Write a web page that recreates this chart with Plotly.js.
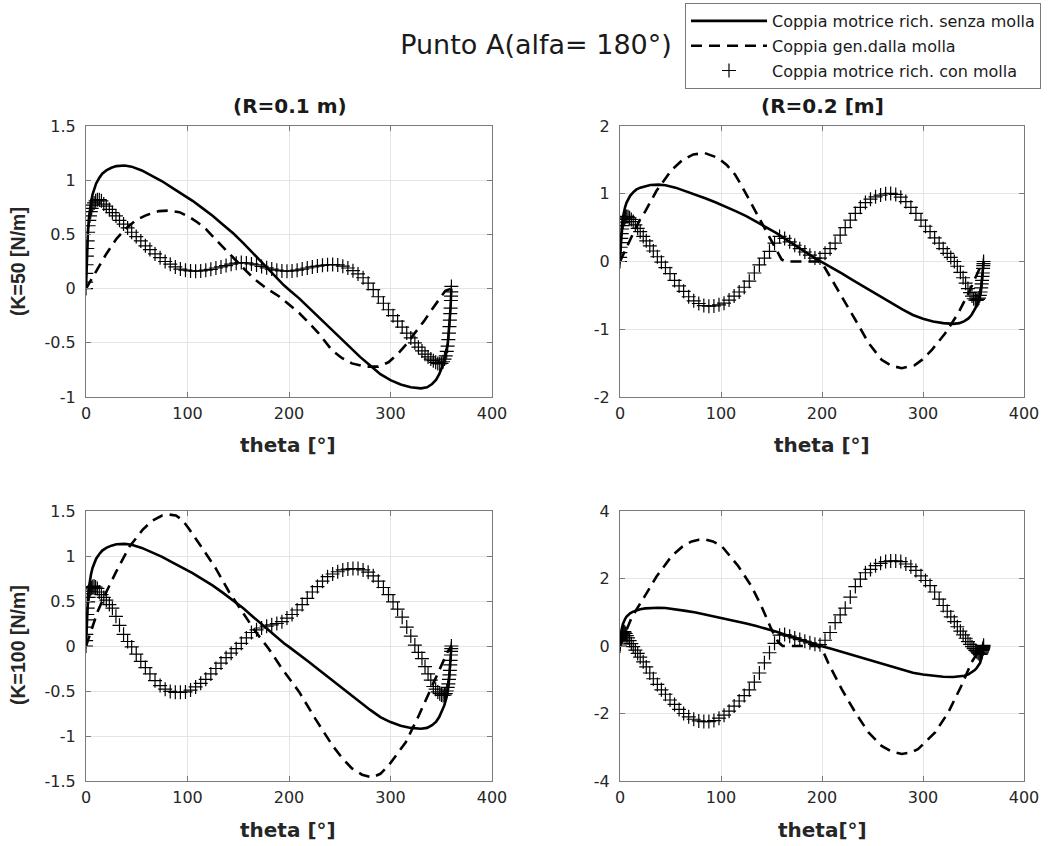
<!DOCTYPE html>
<html>
<head>
<meta charset="utf-8">
<script src="https://cdn.plot.ly/plotly-3.0.1.min.js"></script>
<style>html,body{margin:0;padding:0;background:#fff}#chart{width:1059px;height:846px}</style>
</head>
<body>
<div id="chart"></div>
<script>
// ---- Data ----
// Solid: Coppia motrice rich. senza molla (same in all panels)
const solidTheta = [0,0.5,1,1.5,2,3,4,5,6.5,8,10,13,16,20,25,30,38,45,55,65,75,85,95,105,115,125,135,145,155,165,175,185,195,200,210,220,230,240,250,260,270,280,290,300,310,320,330,336,341,345,348,351,353,355,356.5,357.5,358.3,359,359.5,360];
const solidVal = [0,0.2,0.35,0.46,0.55,0.66,0.74,0.8,0.87,0.92,0.97,1.02,1.06,1.09,1.115,1.13,1.135,1.125,1.09,1.04,0.99,0.93,0.87,0.81,0.74,0.67,0.59,0.51,0.42,0.32,0.22,0.12,0.03,-0.01,-0.09,-0.18,-0.27,-0.36,-0.45,-0.54,-0.63,-0.71,-0.79,-0.845,-0.885,-0.91,-0.92,-0.91,-0.88,-0.84,-0.79,-0.72,-0.66,-0.58,-0.5,-0.4,-0.3,-0.2,-0.1,0];

// Dashed: Coppia gen. dalla molla, one per panel
const dash1Theta = [0,5,13,20,30,40,49,60,72,82,92,102,110,118,126,134,147,157,167,178,190,200,210,220,229,242,252,262,275,288,298,308,316,324,333,341,348,354,360];
const dash1Val = [0,0.08,0.21,0.32,0.46,0.56,0.63,0.68,0.715,0.72,0.705,0.66,0.61,0.55,0.47,0.39,0.27,0.17,0.08,0.0,-0.07,-0.15,-0.225,-0.32,-0.41,-0.565,-0.64,-0.69,-0.72,-0.72,-0.68,-0.595,-0.51,-0.41,-0.30,-0.19,-0.1,-0.02,0];

const dash2Theta = [0,5,11.6,19.8,25,36,51,62,72.6,84,97,106,114,120,127,134,140,150,155,160,164,196,200,206,212,219.5,226,233,246,259,269,279,292,300,309,322,335,345,350,355,358,360];
const dash2Val = [0,0.15,0.37,0.62,0.74,1.04,1.35,1.5,1.58,1.6,1.53,1.42,1.28,1.13,0.94,0.74,0.57,0.32,0.17,0.03,0,0,-0.02,-0.17,-0.33,-0.52,-0.69,-0.86,-1.2,-1.45,-1.54,-1.575,-1.53,-1.44,-1.3,-1.06,-0.76,-0.47,-0.3,-0.12,-0.04,0];

const dash3Theta = [0,5,11.4,20,29.5,42.6,55.7,65,75,82,88.5,95,101.6,115,128,141,154,167,180,193,210,226,242.5,252,262,272,282,290,298,315,328,341,351,356,360];
const dash3Val = [0,0.17,0.38,0.6,0.82,1.1,1.29,1.39,1.45,1.46,1.45,1.4,1.3,1.08,0.86,0.6,0.38,0.16,-0.03,-0.25,-0.51,-0.81,-1.1,-1.24,-1.36,-1.43,-1.46,-1.42,-1.33,-1.07,-0.77,-0.44,-0.18,-0.07,0];

const dash4Theta = [0,5,11.6,25,36,51,62,71,78,84,92,100.7,117,130,140,150,157,161,196,201,206,219.5,233,246,259,269,279,287,295,312,325,338,348,355,360];
const dash4Val = [0,0.38,0.85,1.5,2.05,2.66,2.95,3.1,3.15,3.16,3.1,2.96,2.37,1.78,1.18,0.49,0.1,0,0,-0.15,-0.49,-1.28,-1.97,-2.56,-2.96,-3.13,-3.2,-3.16,-3.06,-2.56,-1.97,-1.18,-0.49,-0.15,0];

// '+' markers: Coppia motrice rich. con molla (same sample angles in every panel)
const plusTheta = [0,0.15,0.35,0.6,0.9,1.25,1.65,2.1,2.6,3.2,3.9,4.7,5.6,6.7,8,9.5,11.2,13.1,15.2,17.5,20,23,26,29.5,33,37,41,45,49.5,54,58.5,63,68,73,78,83,88,93,98,103,108,113,118,123,128,133,138,143,148,153,158,163,168,173,178,183,188,193,198,203,208,213,218,223,228,233,238,243,248,253,258,263,268,273,278,283,288,293,298,302.5,307,311.5,316,320,324,327.5,331,334,337,339.7,342.2,344.5,346.6,348.5,350.2,351.8,353.2,354.4,355.4,356.3,357,357.6,358.1,358.5,358.9,359.2,359.5,359.7,359.85,360];
const plus1Val = [0,0.06,0.14,0.22,0.3,0.37,0.44,0.52,0.58,0.63,0.67,0.71,0.74,0.77,0.79,0.81,0.82,0.82,0.81,0.78,0.76,0.73,0.7,0.67,0.63,0.595,0.56,0.52,0.48,0.44,0.395,0.36,0.32,0.285,0.25,0.225,0.2,0.18,0.17,0.163,0.16,0.163,0.17,0.178,0.19,0.2,0.212,0.225,0.235,0.24,0.237,0.228,0.218,0.205,0.192,0.18,0.17,0.163,0.16,0.163,0.17,0.18,0.19,0.2,0.208,0.215,0.22,0.222,0.218,0.207,0.19,0.165,0.135,0.1,0.05,-0.01,-0.075,-0.135,-0.195,-0.25,-0.3,-0.355,-0.41,-0.455,-0.5,-0.54,-0.575,-0.605,-0.63,-0.65,-0.665,-0.68,-0.69,-0.695,-0.69,-0.675,-0.65,-0.62,-0.58,-0.53,-0.47,-0.41,-0.35,-0.29,-0.23,-0.18,-0.11,-0.07,-0.03,0.02];
const plus2Val = [0,0.06,0.13,0.21,0.28,0.34,0.41,0.48,0.53,0.58,0.62,0.64,0.66,0.665,0.66,0.645,0.62,0.59,0.54,0.49,0.44,0.37,0.305,0.23,0.155,0.07,-0.01,-0.09,-0.18,-0.28,-0.36,-0.44,-0.52,-0.58,-0.62,-0.65,-0.66,-0.655,-0.64,-0.615,-0.57,-0.51,-0.45,-0.38,-0.29,-0.17,-0.05,0.05,0.15,0.27,0.37,0.34,0.29,0.24,0.19,0.14,0.093,0.05,0.05,0.12,0.19,0.27,0.39,0.5,0.61,0.71,0.8,0.87,0.92,0.955,0.98,1.0,1.005,0.99,0.95,0.885,0.8,0.71,0.61,0.52,0.44,0.35,0.27,0.19,0.12,0.06,0.0,-0.07,-0.16,-0.24,-0.32,-0.4,-0.46,-0.51,-0.55,-0.57,-0.575,-0.56,-0.54,-0.5,-0.45,-0.39,-0.33,-0.28,-0.22,-0.17,-0.1,-0.06,-0.03,0.0];
const plus3Val = [0,0.06,0.13,0.21,0.29,0.35,0.42,0.49,0.54,0.58,0.61,0.635,0.65,0.66,0.665,0.655,0.64,0.6,0.57,0.54,0.51,0.46,0.42,0.33,0.23,0.13,0.05,-0.01,-0.09,-0.17,-0.24,-0.31,-0.385,-0.44,-0.48,-0.505,-0.515,-0.515,-0.51,-0.49,-0.455,-0.415,-0.37,-0.31,-0.25,-0.19,-0.13,-0.08,-0.03,0.03,0.09,0.15,0.18,0.2,0.22,0.235,0.25,0.27,0.31,0.35,0.4,0.46,0.53,0.6,0.66,0.72,0.77,0.8,0.825,0.845,0.855,0.86,0.86,0.845,0.82,0.78,0.72,0.65,0.57,0.49,0.41,0.32,0.21,0.11,0.01,-0.07,-0.14,-0.23,-0.31,-0.38,-0.45,-0.48,-0.51,-0.53,-0.545,-0.55,-0.545,-0.53,-0.5,-0.46,-0.42,-0.37,-0.32,-0.27,-0.21,-0.16,-0.1,-0.06,-0.03,0.0];
const plus4Val = [0,0.06,0.12,0.19,0.25,0.3,0.35,0.39,0.42,0.43,0.43,0.41,0.37,0.31,0.24,0.16,0.07,-0.02,-0.12,-0.22,-0.33,-0.47,-0.62,-0.8,-0.97,-1.14,-1.3,-1.43,-1.6,-1.73,-1.88,-2.0,-2.1,-2.17,-2.22,-2.24,-2.24,-2.21,-2.14,-2.05,-1.93,-1.78,-1.63,-1.47,-1.3,-1.07,-0.8,-0.5,-0.2,0.08,0.32,0.34,0.29,0.24,0.19,0.14,0.093,0.05,0.04,0.17,0.4,0.69,0.92,1.12,1.45,1.76,1.98,2.17,2.27,2.38,2.45,2.5,2.52,2.52,2.5,2.43,2.35,2.24,2.08,1.94,1.79,1.6,1.39,1.2,1.03,0.86,0.72,0.57,0.44,0.33,0.23,0.13,0.05,-0.02,-0.08,-0.13,-0.17,-0.2,-0.23,-0.25,-0.25,-0.23,-0.2,-0.17,-0.13,-0.1,-0.08,-0.05,-0.02,0.02];

// Axis ticks / labels
const xTicks = [0,100,200,300,400];
const xTickText = ['0','100','200','300','400'];
const y1Ticks = [-1,-0.5,0,0.5,1,1.5];
const y1Text = ['-1','-0.5','0','0.5','1','1.5'];
const y2Ticks = [-2,-1,0,1,2];
const y2Text = ['-2','-1','0','1','2'];
const y3Ticks = [-1.5,-1,-0.5,0,0.5,1,1.5];
const y3Text = ['-1.5','-1','-0.5','0','0.5','1','1.5'];
const y4Ticks = [-4,-2,0,2,4];
const y4Text = ['-4','-2','0','2','4'];

const seriesNames = ['Coppia motrice rich. senza molla','Coppia gen.dalla molla','Coppia motrice rich. con molla'];

// ---- Build ----
const W = 1059, H = 846;
const FONT = 'DejaVu Sans, Liberation Sans, Arial, sans-serif';
const FONT_V = 'Liberation Sans, Arial, Helvetica, sans-serif';
const dashes = [[dash1Theta,dash1Val],[dash2Theta,dash2Val],[dash3Theta,dash3Val],[dash4Theta,dash4Val]];
const pluses = [plus1Val,plus2Val,plus3Val,plus4Val];
const traces = [];
for (let i = 0; i < 4; i++) {
  const xa = i === 0 ? 'x' : 'x' + (i + 1);
  const ya = i === 0 ? 'y' : 'y' + (i + 1);
  const first = i === 0;
  traces.push({x: solidTheta, y: solidVal, xaxis: xa, yaxis: ya, mode: 'lines', name: seriesNames[0],
    line: {color: '#000', width: 2.6}, showlegend: first, legendgroup: 'a'});
  traces.push({x: dashes[i][0], y: dashes[i][1], xaxis: xa, yaxis: ya, mode: 'lines', name: seriesNames[1],
    line: {color: '#000', width: 2.6, dash: '11px,7px'}, showlegend: first, legendgroup: 'b'});
  traces.push({x: plusTheta, y: pluses[i], xaxis: xa, yaxis: ya, mode: 'markers', name: seriesNames[2],
    marker: {symbol: 'cross-thin-open', size: 10, color: '#000', line: {color: '#000', width: 1.2}},
    showlegend: first, legendgroup: 'c'});
}

function px2fx(a, b) { return [a / W, b / W]; }
function py2fy(top, bottom) { return [1 - bottom / H, 1 - top / H]; }

const colX = [px2fx(86, 492), px2fx(620, 1024)];
const rowY = [py2fy(126, 397), py2fy(511, 781)];
const yT = [[y1Ticks,y1Text,[-1,1.5]],[y2Ticks,y2Text,[-2,2]],[y3Ticks,y3Text,[-1.5,1.5]],[y4Ticks,y4Text,[-4,4]]];

const axCommon = {
  showline: true, mirror: 'ticks', linecolor: '#7a7a7a', linewidth: 1,
  ticks: 'inside', ticklen: 5, tickcolor: '#7a7a7a', tickwidth: 1,
  showgrid: true, gridcolor: '#e4e4e4', gridwidth: 1, zeroline: false,
  tickfont: {family: FONT, size: 16, color: '#262626'}, tickmode: 'array',
  automargin: false, fixedrange: true
};

const layout = {
  width: W, height: H, margin: {l: 0, r: 0, t: 0, b: 0},
  paper_bgcolor: '#fff', plot_bgcolor: '#fff',
  font: {family: FONT, color: '#262626'},
  title: {text: 'Punto A(alfa= 180°)', x: 536 / W, y: 1 - 45 / H, xref: 'paper', yref: 'paper',
    xanchor: 'center', yanchor: 'middle', font: {family: FONT, size: 27, color: '#1a1a1a'}},
  showlegend: true,
  legend: {x: 685 / W, y: 1 - 3 / H, xanchor: 'left', yanchor: 'top', xref: 'paper', yref: 'paper',
    bgcolor: '#fff', bordercolor: '#7a7a7a', borderwidth: 1, itemwidth: 76,
    font: {family: FONT, size: 16, color: '#1a1a1a'}, tracegroupgap: 1},
  annotations: [],
};

for (let i = 0; i < 4; i++) {
  const c = i % 2, r = Math.floor(i / 2);
  const xk = i === 0 ? 'xaxis' : 'xaxis' + (i + 1);
  const yk = i === 0 ? 'yaxis' : 'yaxis' + (i + 1);
  const ya = i === 0 ? 'y' : 'y' + (i + 1);
  const xa = i === 0 ? 'x' : 'x' + (i + 1);
  layout[xk] = Object.assign({}, axCommon, {domain: colX[c], range: [0, 400], anchor: ya,
    tickvals: xTicks, ticktext: xTickText, ticklabelstandoff: 2});
  layout[yk] = Object.assign({}, axCommon, {domain: rowY[r], range: yT[i][2], anchor: xa,
    tickvals: yT[i][0], ticktext: yT[i][1], ticklabelstandoff: 6});
}

const ann = (text, x, y, opts) => Object.assign({text, x: x / W, y: 1 - y / H, xref: 'paper', yref: 'paper',
  showarrow: false, xanchor: 'center', yanchor: 'middle', font: {family: FONT, size: 20, color: '#1a1a1a'}}, opts || {});
const axTitleFont = {family: FONT, size: 20, color: '#262626'};
const yTitleFont = {family: FONT_V, size: 19.5, color: '#262626'};
layout.annotations.push(ann('<b>(R=0.1 m)</b>', 290, 106));
layout.annotations.push(ann('<b>(R=0.2 [m]</b>', 822, 106));
layout.annotations.push(ann('<b>theta [°]</b>', 288, 445, {font: axTitleFont}));
layout.annotations.push(ann('<b>theta [°]</b>', 822, 445, {font: axTitleFont}));
layout.annotations.push(ann('<b>theta [°]</b>', 288, 830, {font: axTitleFont}));
layout.annotations.push(ann('<b>theta[°]</b>', 822, 830, {font: axTitleFont}));
layout.annotations.push(ann('<b>(K=50 [N/m]</b>', 18, 262, {textangle: -90, font: yTitleFont}));
layout.annotations.push(ann('<b>(K=100 [N/m]</b>', 18, 645, {textangle: -90, font: yTitleFont}));

Plotly.newPlot('chart', traces, layout, {staticPlot: true, displayModeBar: false});
</script>
</body>
</html>
